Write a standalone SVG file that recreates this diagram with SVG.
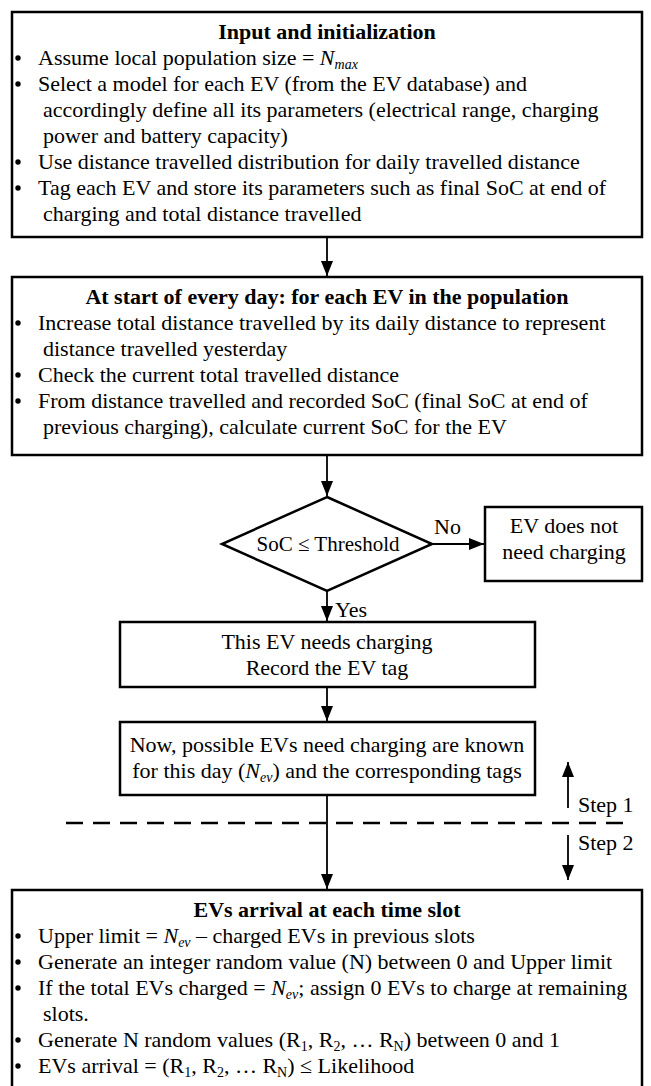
<svg xmlns="http://www.w3.org/2000/svg" width="651" height="1086" viewBox="0 0 651 1086">
<style>
text{font-family:"Liberation Serif","Times New Roman",serif;font-size:22px;fill:#000}
.t{font-weight:bold;text-anchor:middle}
.c{text-anchor:middle}
.box{fill:#fff;stroke:#000;stroke-width:2.5}
.ln{stroke:#000;stroke-width:1.8;fill:none}
.i{font-style:italic}
.s{font-size:14px}
</style>
<defs>
<marker id="ah" markerWidth="15" markerHeight="12" refX="15" refY="6" orient="auto" markerUnits="userSpaceOnUse">
<path d="M0,0 L15,6 L0,12 Z" fill="#000"/>
</marker>
</defs>
<rect width="651" height="1086" fill="#fff"/>
<g id="connectors">
<line class="ln" x1="327" y1="237" x2="327" y2="276" marker-end="url(#ah)"/>
<line class="ln" x1="327" y1="455" x2="327" y2="496" marker-end="url(#ah)"/>
<line class="ln" x1="432" y1="544" x2="484" y2="544" marker-end="url(#ah)"/>
<line class="ln" x1="327" y1="591" x2="327" y2="621" marker-end="url(#ah)"/>
<line class="ln" x1="327" y1="687" x2="327" y2="721" marker-end="url(#ah)"/>
<line class="ln" x1="327" y1="795" x2="327" y2="889" marker-end="url(#ah)"/>
<line class="ln" x1="568" y1="808" x2="568" y2="762" marker-end="url(#ah)"/>
<line class="ln" x1="568" y1="835" x2="568" y2="880" marker-end="url(#ah)"/>
<line x1="66" y1="823" x2="632" y2="823" stroke="#000" stroke-width="2.5" stroke-dasharray="17 10"/>
<text x="434" y="534">No</text>
<text x="335" y="617">Yes</text>
<text x="578" y="812">Step 1</text>
<text x="578" y="850">Step 2</text>
</g>
<g id="n1">
<rect class="box" x="12" y="12" width="630" height="225"/>
<text class="t" x="327" y="39">Input and initialization</text>
<circle cx="18" cy="58" r="2.7"/><text x="38" y="65">Assume local population size = <tspan class="i">N</tspan><tspan class="i s" dy="4">max</tspan></text>
<circle cx="18" cy="84" r="2.7"/><text x="38" y="91">Select a model for each EV (from the EV database) and</text>
<text x="43" y="117">accordingly define all its parameters (electrical range, charging</text>
<text x="43" y="143">power and battery capacity)</text>
<circle cx="18" cy="162" r="2.7"/><text x="38" y="169">Use distance travelled distribution for daily travelled distance</text>
<circle cx="18" cy="188" r="2.7"/><text x="38" y="195">Tag each EV and store its parameters such as final SoC at end of</text>
<text x="43" y="221">charging and total distance travelled</text>
</g>
<g id="n2">
<rect class="box" x="12" y="277" width="630" height="178"/>
<text class="t" x="327" y="304">At start of every day: for each EV in the population</text>
<circle cx="18" cy="323" r="2.7"/><text x="38" y="330">Increase total distance travelled by its daily distance to represent</text>
<text x="43" y="356">distance travelled yesterday</text>
<circle cx="18" cy="375" r="2.7"/><text x="38" y="382">Check the current total travelled distance</text>
<circle cx="18" cy="401" r="2.7"/><text x="38" y="408">From distance travelled and recorded SoC (final SoC at end of</text>
<text x="43" y="434">previous charging), calculate current SoC for the EV</text>
</g>
<g id="n3">
<polygon points="327,497 432,544 327,591 222,544" fill="#fff" stroke="#000" stroke-width="2.5"/>
<text class="c" x="328" y="551" style="font-size:21px">SoC ≤ Threshold</text>
</g>
<g id="n4">
<rect class="box" x="485" y="507" width="157" height="74"/>
<text class="c" x="564" y="533">EV does not</text>
<text class="c" x="564" y="559">need charging</text>
</g>
<g id="n5">
<rect class="box" x="120" y="622" width="415" height="65"/>
<text class="c" x="327" y="649">This EV needs charging</text>
<text class="c" x="327" y="675">Record the EV tag</text>
</g>
<g id="n6">
<rect class="box" x="120" y="722" width="415" height="73"/>
<text class="c" x="327" y="752">Now, possible EVs need charging are known</text>
<text class="c" x="327" y="778">for this day (<tspan class="i">N</tspan><tspan class="i s" dy="4">ev</tspan><tspan dy="-4">) and the corresponding tags</tspan></text>
</g>
<g id="n7">
<rect class="box" x="12" y="890" width="630" height="210"/>
<text class="t" x="327" y="917">EVs arrival at each time slot</text>
<circle cx="18" cy="936" r="2.7"/><text x="38" y="943">Upper limit = <tspan class="i">N</tspan><tspan class="i s" dy="4">ev</tspan><tspan dy="-4"> – charged EVs in previous slots</tspan></text>
<circle cx="18" cy="962" r="2.7"/><text x="38" y="969">Generate an integer random value (N) between 0 and Upper limit</text>
<circle cx="18" cy="988" r="2.7"/><text x="38" y="995">If the total EVs charged = <tspan class="i">N</tspan><tspan class="i s" dy="4">ev</tspan><tspan dy="-4">; assign 0 EVs to charge at remaining</tspan></text>
<text x="43" y="1021">slots.</text>
<circle cx="18" cy="1040" r="2.7"/><text x="38" y="1047">Generate N random values (R<tspan class="s" dy="4">1</tspan><tspan dy="-4">, R</tspan><tspan class="s" dy="4">2</tspan><tspan dy="-4">, … R</tspan><tspan class="s" dy="4">N</tspan><tspan dy="-4">) between 0 and 1</tspan></text>
<circle cx="18" cy="1066" r="2.7"/><text x="38" y="1073">EVs arrival = (R<tspan class="s" dy="4">1</tspan><tspan dy="-4">, R</tspan><tspan class="s" dy="4">2</tspan><tspan dy="-4">, … R</tspan><tspan class="s" dy="4">N</tspan><tspan dy="-4">) ≤ Likelihood</tspan></text>
</g>
</svg>
